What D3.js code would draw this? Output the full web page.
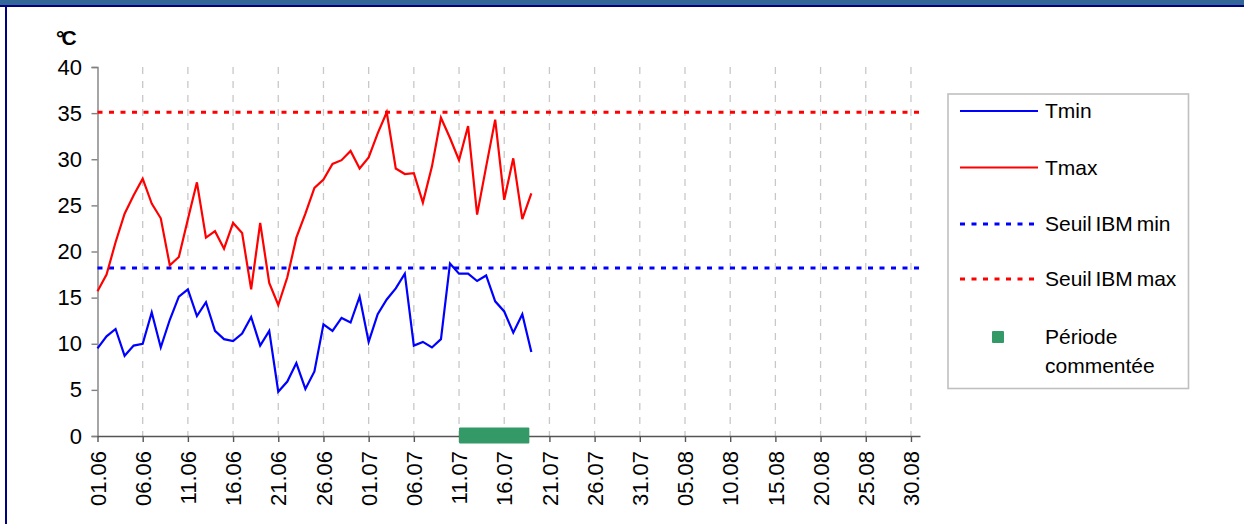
<!DOCTYPE html>
<html>
<head>
<meta charset="utf-8">
<script src="https://cdn.jsdelivr.net/npm/d3@7"></script>
<style>
  body { margin: 0; background: #fff; }
  svg { display: block; font-family: "Liberation Sans", Arial, sans-serif; }
</style>
</head>
<body>
<div id="chart"></div>
<script>
// daily values from 01.06
const firstDay = "01.06";
const tmin = [9.5, 10.8, 11.6, 8.7, 9.8, 10.0, 13.4, 9.6, 12.6, 15.1,
  15.9, 13.0, 14.5, 11.4, 10.5, 10.3, 11.1, 12.9, 9.8, 11.4,
  4.8, 5.9, 7.9, 5.1, 7.0, 12.1, 11.4, 12.8, 12.3, 15.1,
  10.2, 13.2, 14.8, 16.0, 17.6, 9.8, 10.2, 9.6, 10.5, 18.7,
  17.6, 17.6, 16.8, 17.4, 14.6, 13.5, 11.2, 13.2, 9.1];
const tmax = [15.7, 17.5, 21.0, 24.1, 26.1, 27.9, 25.2, 23.6, 18.5, 19.4,
  23.5, 27.5, 21.5, 22.2, 20.3, 23.1, 22.0, 15.9, 23.1, 16.6,
  14.2, 17.2, 21.5, 24.1, 26.9, 27.8, 29.5, 29.9, 30.9, 29.0,
  30.2, 32.8, 35.1, 29.0, 28.4, 28.5, 25.3, 29.2, 34.5, 32.3,
  29.9, 33.6, 24.0, 29.2, 34.3, 25.6, 30.1, 23.5, 26.3];
const seuilMin = 18.2;
const seuilMax = 35.1;
const periode = ["11.07", "19.07"];
const axisStart = "01.06";
const axisEnd = "31.08";
const xTickLabels = ["01.06", "06.06", "11.06", "16.06", "21.06", "26.06", "01.07", "06.07",
  "11.07", "16.07", "21.07", "26.07", "31.07", "05.08", "10.08", "15.08", "20.08", "25.08", "30.08"];
const yTicks = [0, 5, 10, 15, 20, 25, 30, 35, 40];
const legendItems = [
  { label: ["Tmin"], type: "line", color: "#0000ff" },
  { label: ["Tmax"], type: "line", color: "#ff0000" },
  { label: ["Seuil IBM min"], type: "dash", color: "#0000ff" },
  { label: ["Seuil IBM max"], type: "dash", color: "#ff0000" },
  { label: ["Période", "commentée"], type: "square", color: "#339966" }
];

const W = 1244, H = 524;
const fs = 22;
const parse = d3.utcParse("%d.%m");

const svg = d3.select("#chart").append("svg")
  .attr("width", W).attr("height", H);

// frame
svg.append("rect").attr("x", 0).attr("y", 0).attr("width", W).attr("height", 5).attr("fill", "#336699");
svg.append("rect").attr("x", 0).attr("y", 5).attr("width", W).attr("height", 2).attr("fill", "#000080");
svg.append("rect").attr("x", 5).attr("y", 5).attr("width", 2).attr("height", H).attr("fill", "#000080");

const x = d3.scaleUtc()
  .domain([parse(axisStart), parse(axisEnd)])
  .range([97.5, 920]);
const y = d3.scaleLinear().domain([0, 40]).range([436, 67]);

const start = parse(firstDay);
const rows = tmin.map((v, i) => ({ date: d3.utcDay.offset(start, i), tmin: v, tmax: tmax[i] }));

// vertical gridlines
svg.append("g").selectAll("line")
  .data(xTickLabels.slice(1))
  .join("line")
  .attr("x1", d => x(parse(d))).attr("x2", d => x(parse(d)))
  .attr("y1", y(40)).attr("y2", y(0))
  .attr("stroke", "#c8c8c8").attr("stroke-width", 1.3)
  .attr("stroke-dasharray", "7,7");

// y axis
const yAxis = svg.append("g")
  .attr("transform", `translate(${x.range()[0]},0)`)
  .call(d3.axisLeft(y).tickValues(yTicks).tickSize(6).tickPadding(9.5));
yAxis.select(".domain").attr("stroke", "#808080").attr("stroke-width", 1.4);
yAxis.selectAll(".tick line").attr("stroke", "#808080").attr("stroke-width", 1.4);
yAxis.selectAll("text").attr("font-size", fs).attr("fill", "#000")
  .attr("font-family", "Liberation Sans, Arial, sans-serif");

// x axis
const xAxis = svg.append("g")
  .attr("transform", `translate(0,${y(0)})`)
  .call(d3.axisBottom(x).tickValues(xTickLabels.map(parse)).tickSize(6).tickSizeOuter(0)
    .tickFormat(d3.utcFormat("%d.%m")));
xAxis.select(".domain").attr("stroke", "#555").attr("stroke-width", 1.4);
xAxis.selectAll(".tick line").attr("stroke", "#555").attr("stroke-width", 1.4);
xAxis.selectAll("text")
  .attr("font-size", fs).attr("fill", "#000")
  .attr("font-family", "Liberation Sans, Arial, sans-serif")
  .attr("text-anchor", "end")
  .attr("transform", "rotate(-90)")
  .attr("x", -15).attr("y", 0).attr("dy", "0.35em");

// unit label
svg.append("text").attr("x", 56).attr("y", 45)
  .attr("font-size", 21).attr("font-weight", "bold").attr("letter-spacing", -3)
  .text("°C");

// thresholds
svg.append("line")
  .attr("x1", x.range()[0]).attr("x2", x.range()[1])
  .attr("y1", y(seuilMax)).attr("y2", y(seuilMax))
  .attr("stroke", "#ff0000").attr("stroke-width", 3).attr("stroke-dasharray", "5,6.5");
svg.append("line")
  .attr("x1", x.range()[0]).attr("x2", x.range()[1])
  .attr("y1", y(seuilMin)).attr("y2", y(seuilMin))
  .attr("stroke", "#0000ff").attr("stroke-width", 3).attr("stroke-dasharray", "5,6.5");

// series
const lineMin = d3.line().x(d => x(d.date)).y(d => y(d.tmin));
const lineMax = d3.line().x(d => x(d.date)).y(d => y(d.tmax));
svg.append("path").datum(rows).attr("d", lineMax)
  .attr("fill", "none").attr("stroke", "#ff0000").attr("stroke-width", 2.2).attr("stroke-linejoin", "miter");
svg.append("path").datum(rows).attr("d", lineMin)
  .attr("fill", "none").attr("stroke", "#0000ff").attr("stroke-width", 2.2).attr("stroke-linejoin", "miter");

// commented period
svg.append("rect")
  .attr("x", x(parse(periode[0])))
  .attr("width", x(parse(periode[1])) - x(parse(periode[0])) - 2)
  .attr("y", y(0) - 8.5).attr("height", 16)
  .attr("rx", 1)
  .attr("fill", "#339966");

// legend
const lg = svg.append("g");
lg.append("rect").attr("x", 948).attr("y", 94).attr("width", 240.5).attr("height", 294.5)
  .attr("fill", "#fff").attr("stroke", "#c0c0c0").attr("stroke-width", 1.6);
const rowY = [111, 167.5, 224, 279, 337];
legendItems.forEach((it, i) => {
  const g = lg.append("g").attr("transform", `translate(0,${rowY[i]})`);
  if (it.type === "line") {
    g.append("line").attr("x1", 960).attr("x2", 1038).attr("stroke", it.color).attr("stroke-width", 2);
  } else if (it.type === "dash") {
    g.append("line").attr("x1", 960).attr("x2", 1038).attr("stroke", it.color)
      .attr("stroke-width", 3).attr("stroke-dasharray", "5,6.5");
  } else {
    g.append("rect").attr("x", 992).attr("y", -6).attr("width", 12).attr("height", 12)
      .attr("rx", 1).attr("fill", it.color);
  }
  it.label.forEach((t, j) => {
    g.append("text").attr("x", 1045).attr("y", j * 28.5).attr("dy", "0.35em")
      .attr("font-size", 21).attr("word-spacing", -2).text(t);
  });
});
</script>
</body>
</html>
